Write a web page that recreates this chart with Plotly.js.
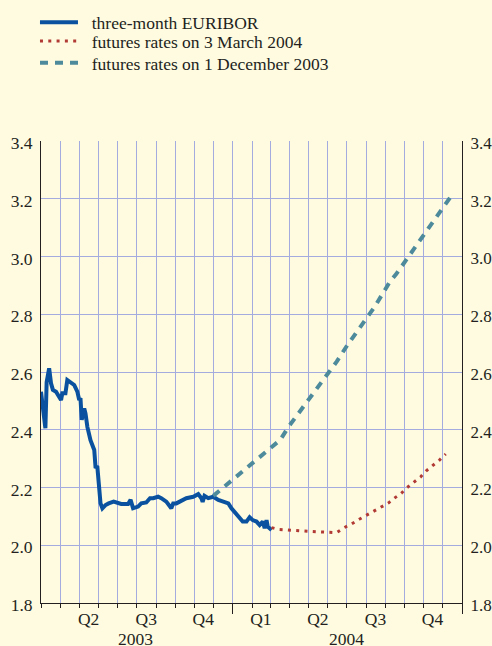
<!DOCTYPE html>
<html>
<head>
<meta charset="utf-8">
<script src="https://cdn.plot.ly/plotly-3.0.1.min.js"></script>
<style>
  html, body { margin: 0; padding: 0; background: #fefbe1; }
  #chart { width: 492px; height: 646px; }
</style>
</head>
<body>
<div id="chart"></div>
<script>
// three-month EURIBOR (daily readings, % p.a.)
const euriborDates = [
  '2003-03-01','2003-03-08','2003-03-10','2003-03-14','2003-03-17','2003-03-20','2003-03-25','2003-03-30',
  '2003-04-02','2003-04-04','2003-04-09','2003-04-12','2003-04-18','2003-04-23','2003-04-28',
  '2003-05-01','2003-05-03','2003-05-05','2003-05-09','2003-05-11','2003-05-14','2003-05-19','2003-05-25','2003-05-27','2003-05-30',
  '2003-06-02','2003-06-04','2003-06-07','2003-06-12','2003-06-17','2003-06-25',
  '2003-07-07','2003-07-18','2003-07-22','2003-07-26',
  '2003-08-03','2003-08-08','2003-08-16','2003-08-22','2003-08-27',
  '2003-09-04','2003-09-09','2003-09-17','2003-09-25','2003-09-28',
  '2003-10-03','2003-10-11','2003-10-19','2003-10-30',
  '2003-11-07','2003-11-12','2003-11-14','2003-11-17','2003-11-23',
  '2003-12-01','2003-12-09','2003-12-17','2003-12-25','2003-12-30',
  '2004-01-04','2004-01-12','2004-01-17','2004-01-23','2004-01-28',
  '2004-02-02','2004-02-08','2004-02-13','2004-02-18','2004-02-21','2004-02-24','2004-02-26','2004-03-03'
];
const euriborRates = [
  2.532,2.405,2.565,2.613,2.561,2.538,2.532,2.514,
  2.503,2.526,2.526,2.572,2.561,2.555,2.532,
  2.503,2.510,2.434,2.474,2.457,2.410,2.364,2.330,2.272,2.270,
  2.180,2.145,2.128,2.139,2.145,2.151,
  2.143,2.143,2.157,2.128,
  2.134,2.145,2.148,2.163,2.163,
  2.168,2.163,2.151,2.128,2.145,
  2.145,2.154,2.163,2.168,
  2.177,2.163,2.150,2.171,2.163,
  2.168,2.157,2.151,2.145,2.128,
  2.116,2.093,2.082,2.082,2.097,
  2.087,2.082,2.070,2.082,2.059,2.087,2.064,2.053
];

// futures rates on 3 March 2004
const futMarDates = [
  '2004-03-03','2004-03-14','2004-03-28','2004-04-10','2004-04-24','2004-05-08','2004-05-21','2004-06-02','2004-06-15',
  '2004-06-27','2004-07-09','2004-07-21','2004-08-01','2004-08-13','2004-08-25','2004-09-06','2004-09-15',
  '2004-09-26','2004-10-05','2004-10-16','2004-10-27','2004-11-05','2004-11-16','2004-11-26','2004-12-06'
];
const futMarRates = [
  2.061,2.055,2.053,2.051,2.048,2.047,2.046,2.045,2.044,
  2.061,2.074,2.090,2.104,2.119,2.134,2.147,2.163,
  2.180,2.199,2.219,2.237,2.258,2.277,2.295,2.316
];

// futures rates on 1 December 2003
const futDecDates = [
  '2003-12-01','2003-12-20','2004-01-08','2004-01-28','2004-02-16','2004-03-05','2004-03-17','2004-03-30',
  '2004-04-15','2004-04-30','2004-05-14','2004-05-29','2004-06-15','2004-07-02','2004-07-16','2004-07-30',
  '2004-08-14','2004-08-27','2004-09-08','2004-09-18','2004-10-02','2004-10-16','2004-10-31','2004-11-13',
  '2004-11-28','2004-12-14'
];
const futDecRates = [
  2.171,2.205,2.241,2.276,2.309,2.341,2.365,2.410,
  2.457,2.497,2.540,2.586,2.636,2.693,2.736,2.780,
  2.824,2.870,2.913,2.939,2.982,3.025,3.069,3.112,
  3.155,3.207
];

// series names and axis labels
const seriesNames = ['three-month EURIBOR', 'futures rates on 3 March 2004', 'futures rates on 1 December 2003'];
const quarterDates = ['2003-05-16','2003-08-16','2003-11-15','2004-02-15','2004-05-16','2004-08-16','2004-11-15'];
const quarterLabels = ['Q2','Q3','Q4','Q1','Q2','Q3','Q4'];
const yearDates = ['2003-07-30','2004-07-01'];
const yearLabels = ['2003','2004'];
const yTicks = [1.8,2.0,2.2,2.4,2.6,2.8,3.0,3.2,3.4];

const FONT = 'Liberation Serif';
const TXT = '#231f20';
const GRID = '#a3abdf';
const BG = '#fefbe1';
const xRange = ['2003-03-01','2005-01-01'];
const yRange = [1.8, 3.4];
const NB = '\u00a0\u00a0';

const traces = [
  { x: euriborDates, y: euriborRates, type: 'scatter', mode: 'lines', name: NB + seriesNames[0],
    legend: 'legend', line: { color: '#0a52a0', width: 4 } },
  { x: futMarDates, y: futMarRates, type: 'scatter', mode: 'lines', name: NB + seriesNames[1],
    legend: 'legend2', line: { color: '#b23a35', width: 3, dash: '3px,5.3px' } },
  { x: futDecDates, y: futDecRates, type: 'scatter', mode: 'lines', name: NB + seriesNames[2],
    legend: 'legend3', line: { color: '#4d8a9b', width: 4, dash: '8px,7px' } },
  { x: [quarterDates[0]], y: [null], xaxis: 'x2', yaxis: 'y2', showlegend: false, hoverinfo: 'skip', type: 'scatter' }
];

function legendAt(y) {
  return {
    x: -0.0143, xanchor: 'left', y: y, yanchor: 'top',
    bgcolor: 'rgba(0,0,0,0)', borderwidth: 0,
    font: { family: FONT, size: 17.5, color: TXT },
    itemwidth: 38
  };
}

const layout = {
  width: 492, height: 646,
  margin: { l: 41, r: 30, t: 141, b: 43, pad: 0, autoexpand: false },
  paper_bgcolor: BG, plot_bgcolor: BG,
  font: { family: FONT, size: 17, color: TXT },
  showlegend: true,
  legend: legendAt(1.2955),
  legend2: legendAt(1.2552),
  legend3: legendAt(1.2082),
  xaxis: {
    type: 'date', range: xRange, fixedrange: true,
    tick0: '2004-01-01', dtick: 'M12',
    showticklabels: false,
    ticks: 'outside', ticklen: 10, tickcolor: TXT, tickwidth: 1,
    showgrid: true, gridcolor: GRID, gridwidth: 1,
    showline: true, linecolor: TXT, linewidth: 1,
    zeroline: false,
    minor: { dtick: 'M1', tick0: '2003-03-01', ticks: 'outside', ticklen: 4, tickcolor: TXT,
             showgrid: true, gridcolor: GRID, gridwidth: 1 }
  },
  xaxis2: {
    type: 'date', range: xRange, overlaying: 'x', anchor: 'y', side: 'bottom',
    tickmode: 'array', tickvals: quarterDates, ticktext: quarterLabels,
    ticks: '', showgrid: false, showline: false, zeroline: false,
    ticklabelstandoff: 3,
    tickfont: { family: FONT, size: 17.5, color: TXT }
  },
  yaxis: {
    range: yRange, fixedrange: true,
    tickmode: 'array', tickvals: yTicks, ticktext: yTicks.map(v => v.toFixed(1)),
    ticks: '', showgrid: true, gridcolor: GRID, gridwidth: 1,
    showline: true, linecolor: TXT, linewidth: 1, zeroline: false,
    ticklabelstandoff: 4, ticklabelshift: 2,
    tickfont: { family: FONT, size: 17.5, color: TXT }
  },
  yaxis2: {
    range: yRange, overlaying: 'y', side: 'right', anchor: 'x',
    tickmode: 'array', tickvals: yTicks, ticktext: yTicks.map(v => v.toFixed(1)),
    ticks: '', showgrid: false, showline: true, linecolor: TXT, linewidth: 1, zeroline: false,
    ticklabelstandoff: 4, ticklabelshift: 2,
    tickfont: { family: FONT, size: 17, color: TXT }
  },
  annotations: yearDates.map((d, i) => ({
    x: d, xref: 'x', y: -0.077, yref: 'paper', text: yearLabels[i],
    showarrow: false, xanchor: 'center', yanchor: 'middle',
    font: { family: FONT, size: 17.5, color: TXT }
  }))
};

Plotly.newPlot('chart', traces, layout, { displayModeBar: false, staticPlot: true });
</script>
</body>
</html>
